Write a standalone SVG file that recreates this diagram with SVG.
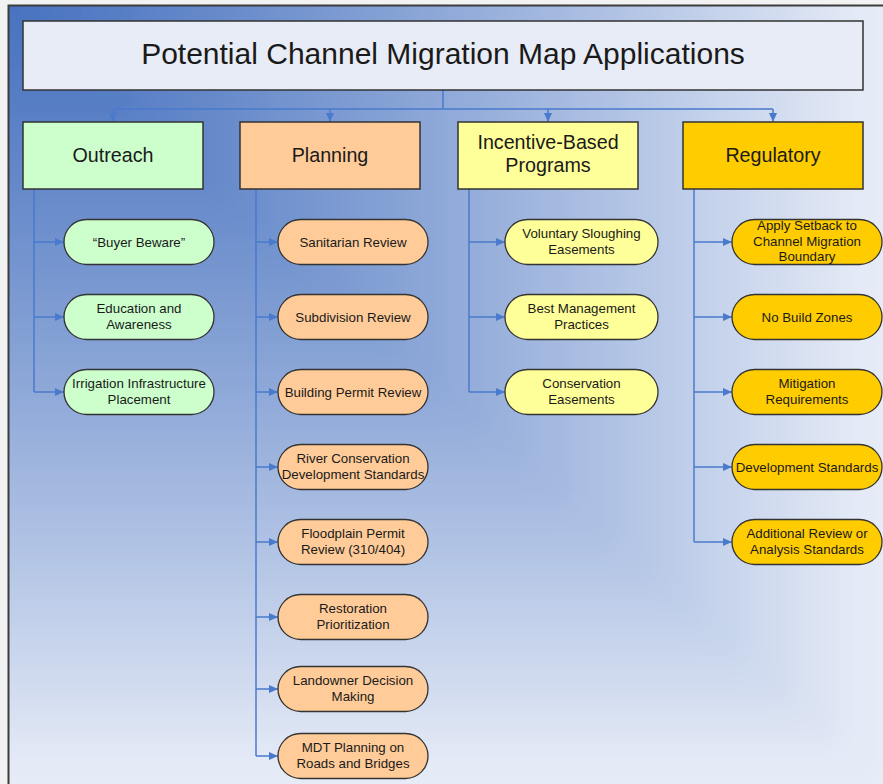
<svg xmlns="http://www.w3.org/2000/svg" width="883" height="784" viewBox="0 0 883 784">
<style>
text{font-family:"Liberation Sans",Arial,sans-serif;fill:#1a1a1a;text-anchor:middle}
.title{font-size:30px}
.cat{font-size:19.7px}
.t{font-size:13.3px}
.box{stroke:#333;stroke-width:1.5}
.pill{stroke:#333;stroke-width:1.3}
.green{fill:#ccffcc}
.orange{fill:#ffcc99}
.yellow{fill:#ffff99}
.gold{fill:#ffcc00}
.conn path{stroke:#4a7acb;stroke-width:1.5;fill:none}
.arr{marker-end:url(#ah)}
.bands rect{x:-50px;y:-50px}
</style>
<defs>
<marker id="ah" markerUnits="userSpaceOnUse" markerWidth="10" markerHeight="10" refX="9" refY="4" orient="auto">
<path d="M0,0 L9,4 L0,8 z" fill="#4a7acb"/>
</marker>
<filter id="soft" filterUnits="userSpaceOnUse" x="-100" y="-100" width="1100" height="1000">
<feGaussianBlur stdDeviation="14"/>
</filter>
<clipPath id="frame">
<rect x="8" y="5" width="875" height="779"/>
</clipPath>
</defs>
<g id="background">
<rect x="0" y="0" width="883" height="784" fill="#f2f2f2"/>
<g clip-path="url(#frame)">
<g filter="url(#soft)">
<rect x="-50" y="-50" width="1000" height="900" fill="#e8eef8"/>
<rect x="-50" y="-50" width="933" height="834" fill="#e4eaf6"/>
<rect x="-50" y="-50" width="889.3" height="795.1" fill="#dbe3f3"/>
<rect x="-50" y="-50" width="845.5" height="756.1" fill="#d2dcf0"/>
<rect x="-50" y="-50" width="801.8" height="717.2" fill="#c8d5ec"/>
<rect x="-50" y="-50" width="758" height="678.2" fill="#bfcee9"/>
<rect x="-50" y="-50" width="714.3" height="639.3" fill="#b6c7e6"/>
<rect x="-50" y="-50" width="670.5" height="600.3" fill="#adc0e3"/>
<rect x="-50" y="-50" width="626.8" height="561.4" fill="#a5b9e0"/>
<rect x="-50" y="-50" width="583" height="522.4" fill="#9cb3dd"/>
<rect x="-50" y="-50" width="539.3" height="483.5" fill="#93acda"/>
<rect x="-50" y="-50" width="495.5" height="444.5" fill="#8ba6d7"/>
<rect x="-50" y="-50" width="451.8" height="405.6" fill="#83a0d4"/>
<rect x="-50" y="-50" width="408" height="366.6" fill="#7b9ad1"/>
<rect x="-50" y="-50" width="364.3" height="327.7" fill="#7394cf"/>
<rect x="-50" y="-50" width="320.5" height="288.7" fill="#6c8ecc"/>
<rect x="-50" y="-50" width="276.8" height="249.8" fill="#6588c9"/>
<rect x="-50" y="-50" width="233" height="210.8" fill="#5e83c7"/>
<rect x="-50" y="-50" width="189.3" height="171.9" fill="#577ec5"/>
<rect x="-50" y="-50" width="145.5" height="132.9" fill="#5179c3"/>
<rect x="-50" y="-50" width="101.8" height="94" fill="#4c75c1"/>
<rect x="-50" y="-50" width="70" height="65" fill="#4873c0"/>
</g>
</g>
<path d="M8.5,784 V5.5 H883" fill="none" stroke="#3c3c3c" stroke-width="2"/>
</g>
<g class="conn" id="connectors">
<path d="M443,90 V109 M113,109 H773"/>
<path class="arr" d="M113,109 V122"/>
<path class="arr" d="M330,109 V122"/>
<path class="arr" d="M548,109 V122"/>
<path class="arr" d="M773,109 V122"/>
<path d="M34,189 V392"/>
<path class="arr" d="M34,242 H64"/>
<path class="arr" d="M34,317 H64"/>
<path class="arr" d="M34,392 H64"/>
<path d="M256,189 V756"/>
<path class="arr" d="M256,242 H278"/>
<path class="arr" d="M256,317 H278"/>
<path class="arr" d="M256,392 H278"/>
<path class="arr" d="M256,467 H278"/>
<path class="arr" d="M256,542 H278"/>
<path class="arr" d="M256,617 H278"/>
<path class="arr" d="M256,689 H278"/>
<path class="arr" d="M256,756 H278"/>
<path d="M469,189 V392"/>
<path class="arr" d="M469,242 H505"/>
<path class="arr" d="M469,317 H505"/>
<path class="arr" d="M469,392 H505"/>
<path d="M694,189 V542"/>
<path class="arr" d="M694,242 H732"/>
<path class="arr" d="M694,317 H732"/>
<path class="arr" d="M694,392 H732"/>
<path class="arr" d="M694,467 H732"/>
<path class="arr" d="M694,542 H732"/>
</g>
<g id="title">
<rect class="box" x="23" y="21" width="840" height="69" fill="#e8ecf6"/>
<text class="title" x="443" y="64">Potential Channel Migration Map Applications</text>
</g>
<g id="outreach">
<rect class="box green" x="23" y="122" width="180" height="67"/>
<text class="cat" x="113" y="162">Outreach</text>
</g>
<g id="planning">
<rect class="box orange" x="240" y="122" width="180" height="67"/>
<text class="cat" x="330" y="162">Planning</text>
</g>
<g id="incentive">
<rect class="box yellow" x="458" y="122" width="180" height="67"/>
<text class="cat" x="548" y="149">Incentive-Based</text>
<text class="cat" x="548" y="172">Programs</text>
</g>
<g id="regulatory">
<rect class="box gold" x="683" y="122" width="180" height="67"/>
<text class="cat" x="773" y="162">Regulatory</text>
</g>
<g id="buyer-beware">
<rect class="pill green" x="64" y="219.5" width="150" height="45" rx="22.5"/>
<text class="t" x="139" y="246.5">“Buyer Beware”</text>
</g>
<g id="education">
<rect class="pill green" x="64" y="294.5" width="150" height="45" rx="22.5"/>
<text class="t" x="139" y="313">Education and</text>
<text class="t" x="139" y="328.5">Awareness</text>
</g>
<g id="irrigation">
<rect class="pill green" x="64" y="369.5" width="150" height="45" rx="22.5"/>
<text class="t" x="139" y="388">Irrigation Infrastructure</text>
<text class="t" x="139" y="403.5">Placement</text>
</g>
<g id="sanitarian">
<rect class="pill orange" x="278" y="219.5" width="150" height="45" rx="22.5"/>
<text class="t" x="353" y="246.5">Sanitarian Review</text>
</g>
<g id="subdivision">
<rect class="pill orange" x="278" y="294.5" width="150" height="45" rx="22.5"/>
<text class="t" x="353" y="321.5">Subdivision Review</text>
</g>
<g id="building-permit">
<rect class="pill orange" x="278" y="369.5" width="150" height="45" rx="22.5"/>
<text class="t" x="353" y="396.5">Building Permit Review</text>
</g>
<g id="river-conservation">
<rect class="pill orange" x="278" y="444.5" width="150" height="45" rx="22.5"/>
<text class="t" x="353" y="463">River Conservation</text>
<text class="t" x="353" y="478.5">Development Standards</text>
</g>
<g id="floodplain">
<rect class="pill orange" x="278" y="519.5" width="150" height="45" rx="22.5"/>
<text class="t" x="353" y="538">Floodplain Permit</text>
<text class="t" x="353" y="553.5">Review (310/404)</text>
</g>
<g id="restoration">
<rect class="pill orange" x="278" y="594.5" width="150" height="45" rx="22.5"/>
<text class="t" x="353" y="613">Restoration</text>
<text class="t" x="353" y="628.5">Prioritization</text>
</g>
<g id="landowner">
<rect class="pill orange" x="278" y="666.5" width="150" height="45" rx="22.5"/>
<text class="t" x="353" y="685">Landowner Decision</text>
<text class="t" x="353" y="700.5">Making</text>
</g>
<g id="mdt">
<rect class="pill orange" x="278" y="733.5" width="150" height="45" rx="22.5"/>
<text class="t" x="353" y="752">MDT Planning on</text>
<text class="t" x="353" y="767.5">Roads and Bridges</text>
</g>
<g id="voluntary">
<rect class="pill yellow" x="505" y="219.5" width="153" height="45" rx="22.5"/>
<text class="t" x="581.5" y="238">Voluntary Sloughing</text>
<text class="t" x="581.5" y="253.5">Easements</text>
</g>
<g id="bmp">
<rect class="pill yellow" x="505" y="294.5" width="153" height="45" rx="22.5"/>
<text class="t" x="581.5" y="313">Best Management</text>
<text class="t" x="581.5" y="328.5">Practices</text>
</g>
<g id="conservation">
<rect class="pill yellow" x="505" y="369.5" width="153" height="45" rx="22.5"/>
<text class="t" x="581.5" y="388">Conservation</text>
<text class="t" x="581.5" y="403.5">Easements</text>
</g>
<g id="setback">
<rect class="pill gold" x="732" y="219.5" width="150" height="45" rx="22.5"/>
<text class="t" x="807" y="229.5">Apply Setback to</text>
<text class="t" x="807" y="245.5">Channel Migration</text>
<text class="t" x="807" y="261">Boundary</text>
</g>
<g id="no-build">
<rect class="pill gold" x="732" y="294.5" width="150" height="45" rx="22.5"/>
<text class="t" x="807" y="321.5">No Build Zones</text>
</g>
<g id="mitigation">
<rect class="pill gold" x="732" y="369.5" width="150" height="45" rx="22.5"/>
<text class="t" x="807" y="388">Mitigation</text>
<text class="t" x="807" y="403.5">Requirements</text>
</g>
<g id="dev-standards">
<rect class="pill gold" x="732" y="444.5" width="150" height="45" rx="22.5"/>
<text class="t" x="807" y="471.5">Development Standards</text>
</g>
<g id="additional-review">
<rect class="pill gold" x="732" y="519.5" width="150" height="45" rx="22.5"/>
<text class="t" x="807" y="538">Additional Review or</text>
<text class="t" x="807" y="553.5">Analysis Standards</text>
</g>
</svg>
